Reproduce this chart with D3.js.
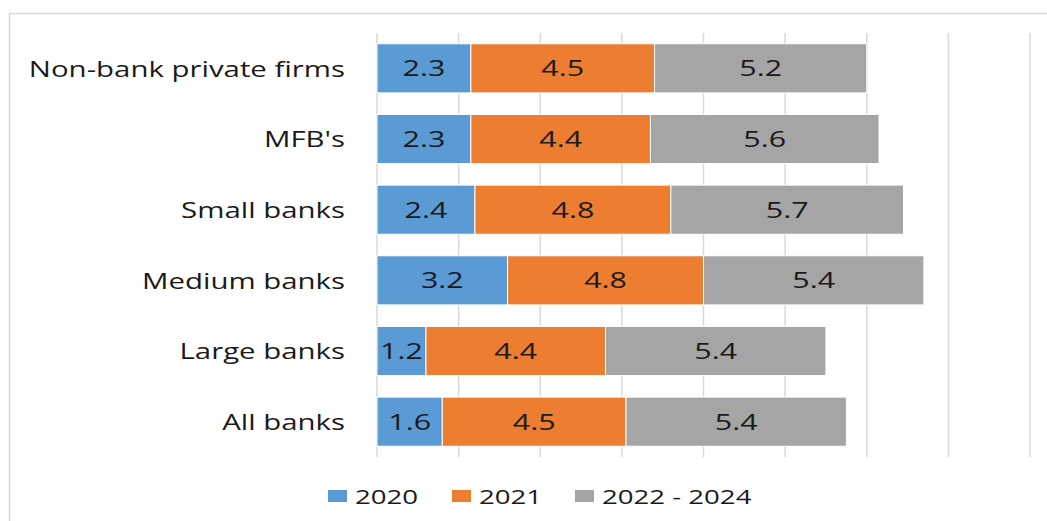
<!DOCTYPE html>
<html>
<head>
<meta charset="utf-8">
<script src="https://cdn.jsdelivr.net/npm/d3@7"></script>
<style>
  html, body { margin: 0; padding: 0; background: #fff; }
  svg { display: block; }
  text { font-family: "Open Sans", "DejaVu Sans", sans-serif; fill: #1a1a1a; }
</style>
</head>
<body>
<svg id="chart" width="1047" height="521"></svg>
<script>
// Categories listed top to bottom
const categories = ["Non-bank private firms", "MFB's", "Small banks", "Medium banks", "Large banks", "All banks"];
const seriesNames = ["2020", "2021", "2022 - 2024"];
const values2020 = [2.3, 2.3, 2.4, 3.2, 1.2, 1.6];
const values2021 = [4.5, 4.4, 4.8, 4.8, 4.4, 4.5];
const values2022_2024 = [5.2, 5.6, 5.7, 5.4, 5.4, 5.4];
const gridTicks = [0, 2, 4, 6, 8, 10, 12, 14, 16];
const colors = ["#5B9BD5", "#ED7D31", "#A5A5A5"];

const rows = categories.map((c, i) => ({
  category: c,
  "2020": values2020[i],
  "2021": values2021[i],
  "2022 - 2024": values2022_2024[i]
}));

// Horizontal stretch of the lettering (wide type)
const stretchCat = 1.4;
const stretchVal = 1.45;
const stretchLegend = 1.38;

const svg = d3.select("#chart");

// Outer frame
svg.append("rect")
  .attr("x", 9.5).attr("y", 13.5)
  .attr("width", 1060).attr("height", 530)
  .attr("fill", "none").attr("stroke", "#d9d9d9").attr("stroke-width", 1.5);

const x = d3.scaleLinear().domain([0, 16]).range([377, 1030]);
const y = d3.scaleBand().domain(categories).range([33, 457])
  .paddingInner(0.305).paddingOuter(0.1525);

// Vertical gridlines
svg.append("g").selectAll("line")
  .data(gridTicks)
  .join("line")
  .attr("x1", d => x(d)).attr("x2", d => x(d))
  .attr("y1", 33).attr("y2", 457)
  .attr("stroke", "#d9d9d9").attr("stroke-width", 1.5);

const stacked = d3.stack().keys(seriesNames)(rows);

const layers = svg.append("g").selectAll("g")
  .data(stacked)
  .join("g")
  .attr("fill", (d, i) => colors[i]);

layers.selectAll("rect")
  .data(d => d)
  .join("rect")
  .attr("x", d => x(d[0]))
  .attr("y", d => y(d.data.category))
  .attr("width", d => x(d[1]) - x(d[0]))
  .attr("height", y.bandwidth())
  .attr("stroke", "#fff").attr("stroke-width", 1);

// Value labels centred in each segment
const labelLayers = svg.append("g").selectAll("g")
  .data(stacked)
  .join("g");

labelLayers.selectAll("text")
  .data(d => d.map(p => ({ p, key: d.key })))
  .join("text")
  .attr("transform", d =>
    `translate(${x((d.p[0] + d.p[1]) / 2)},${y(d.p.data.category) + y.bandwidth() / 2}) scale(${stretchVal},1)`)
  .attr("text-anchor", "middle")
  .attr("dominant-baseline", "central")
  .attr("font-size", 21)
  .text(d => d.p.data[d.key].toFixed(1));

// Category labels
svg.append("g").selectAll("text")
  .data(categories)
  .join("text")
  .attr("transform", d => `translate(345,${y(d) + y.bandwidth() / 2}) scale(${stretchCat},1)`)
  .attr("text-anchor", "end")
  .attr("dominant-baseline", "central")
  .attr("font-size", 21)
  .text(d => d);

// Legend
const legendX = [328, 452, 575];
const legend = svg.append("g").selectAll("g")
  .data(seriesNames)
  .join("g")
  .attr("transform", (d, i) => `translate(${legendX[i]},490)`);
legend.append("rect")
  .attr("width", 19).attr("height", 12)
  .attr("fill", (d, i) => colors[i]);
legend.append("text")
  .attr("transform", `translate(27,6) scale(${stretchLegend},1)`)
  .attr("dominant-baseline", "central")
  .attr("font-size", 20)
  .text(d => d);
</script>
</body>
</html>
